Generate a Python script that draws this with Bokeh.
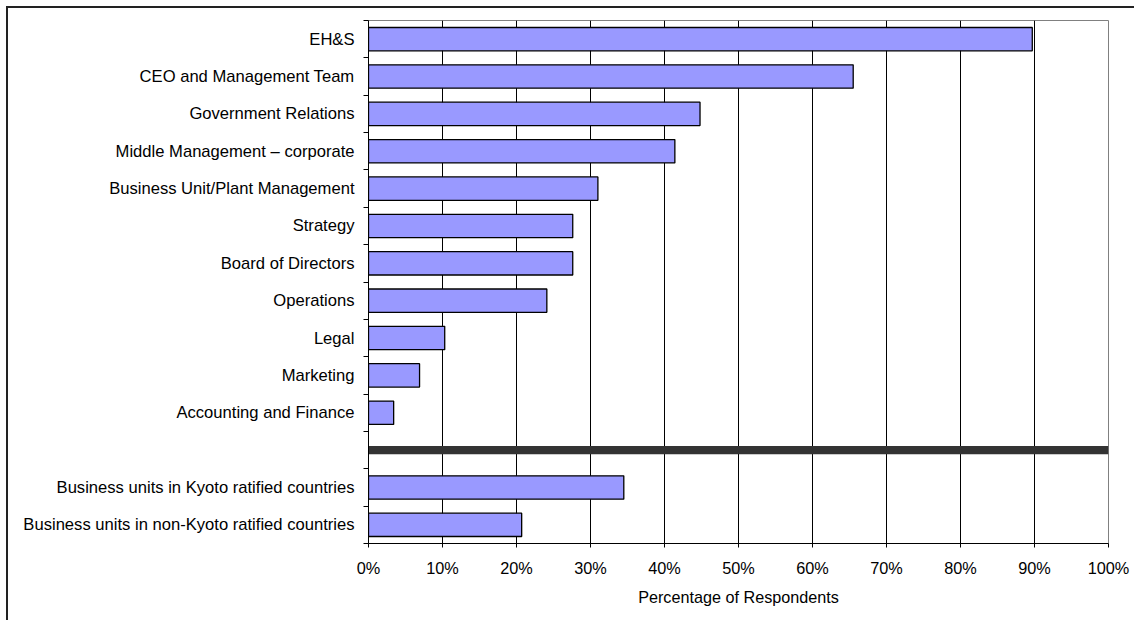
from bokeh.plotting import figure
from bokeh.models import Range1d, FixedTicker, PrintfTickFormatter
from bokeh.embed import file_html
from bokeh.resources import INLINE

# ---- data ----
functions = [
    "EH&S",
    "CEO and Management Team",
    "Government Relations",
    "Middle Management \u2013 corporate",
    "Business Unit/Plant Management",
    "Strategy",
    "Board of Directors",
    "Operations",
    "Legal",
    "Marketing",
    "Accounting and Finance",
]
function_pct = [89.7, 65.5, 44.8, 41.4, 31.0, 27.6, 27.6, 24.1, 10.3, 6.9, 3.4]

regions = [
    "Business units in Kyoto ratified countries",
    "Business units in non-Kyoto ratified countries",
]
region_pct = [34.5, 20.7]

divider_pct = [100]

x_ticks = [0, 10, 20, 30, 40, 50, 60, 70, 80, 90, 100]
x_label = "Percentage of Respondents"

# ---- layout of rows (top to bottom) ----
rows = functions + [""] + regions
n_rows = len(rows)
func_pos = list(range(len(functions)))
div_pos = [len(functions)]
region_pos = [len(functions) + 1 + i for i in range(len(regions))]
label_pos = func_pos + region_pos
boundaries = [i - 0.5 for i in range(n_rows + 1)]

FONT = "Liberation Sans"

p = figure(
    width=1128, height=614,
    x_range=Range1d(0, 100),
    y_range=Range1d(n_rows - 0.5, -0.5),
    output_backend="svg", toolbar_location=None,
    min_border_left=360, min_border_right=28,
    min_border_top=12, min_border_bottom=79,
)
p.styles = {
    "border-left": "2px solid #222222",
    "border-top": "2px solid #222222",
    "margin-left": "6px",
    "margin-top": "6px",
}

p.outline_line_color = "#808080"
p.outline_line_width = 1
p.background_fill_color = "white"
p.border_fill_color = "white"

# grid
p.ygrid.visible = False
p.xgrid.ticker = FixedTicker(ticks=x_ticks[1:-1])
p.xgrid.grid_line_color = "#000000"
p.xgrid.grid_line_width = 1

# bars
p.hbar(y=func_pos, left=0, right=function_pct, height=0.625,
       fill_color="#9999FF", line_color="#000000", line_width=1.3)
p.hbar(y=region_pos, left=0, right=region_pct, height=0.625,
       fill_color="#9999FF", line_color="#000000", line_width=1.3)
p.hbar(y=div_pos, left=0, right=divider_pct, height=0.22,
       fill_color="#333333", line_color=None)

# x axis
xa = p.xaxis[0]
xa.ticker = FixedTicker(ticks=x_ticks)
xa.formatter = PrintfTickFormatter(format="%d%%")
xa.axis_line_color = "#000000"
xa.major_tick_line_color = "#000000"
xa.major_tick_out = 4
xa.major_tick_in = 0
xa.minor_tick_out = 0
xa.minor_tick_in = 0
xa.major_label_standoff = 11
xa.major_label_text_font = FONT
xa.major_label_text_font_size = "16.3px"
xa.major_label_text_color = "#000000"
xa.axis_label = x_label
xa.axis_label_text_font = FONT
xa.axis_label_text_font_size = "16.2px"
xa.axis_label_text_font_style = "normal"
xa.axis_label_text_color = "#000000"
xa.axis_label_standoff = 8

# y axis
ya = p.yaxis[0]
ya.ticker = FixedTicker(ticks=label_pos, minor_ticks=boundaries)
ya.major_label_overrides = {i: rows[i] for i in label_pos}
ya.axis_line_color = "#000000"
ya.major_tick_out = 0
ya.major_tick_in = 0
ya.minor_tick_out = 5
ya.minor_tick_in = 0
ya.minor_tick_line_color = "#000000"
ya.major_label_standoff = 9
ya.major_label_text_font = FONT
ya.major_label_text_font_size = "16.6px"
ya.major_label_text_color = "#000000"

open("out.html", "w").write(file_html(p, INLINE))
